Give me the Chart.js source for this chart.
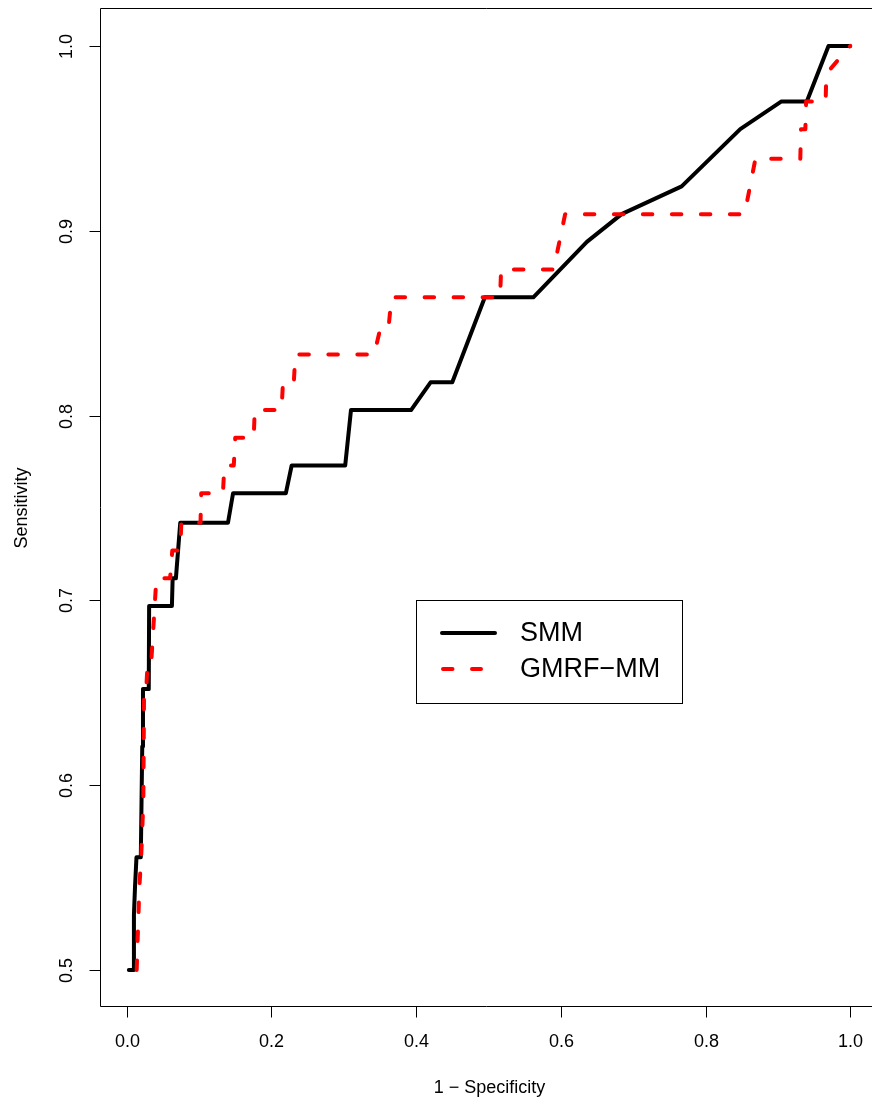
<!DOCTYPE html>
<html>
<head>
<meta charset="utf-8">
<script src="https://cdn.jsdelivr.net/npm/chart.js@4/dist/chart.umd.min.js"></script>
<style>
  html, body { margin: 0; padding: 0; background: #fff; overflow: hidden; }
  canvas { display: block; }
</style>
</head>
<body>
<canvas id="roc" width="872" height="1104"></canvas>
<script>
// ROC curves: false positive rate (1 - specificity) against sensitivity
const seriesNames = ['SMM', 'GMRF\u2212MM'];

const smmFpr = [0.0030, 0.0090, 0.0100, 0.0115, 0.0135, 0.0195, 0.0205, 0.0215, 0.0225,
                0.0305, 0.0310, 0.0625, 0.0635, 0.0680, 0.0740, 0.1400, 0.1470, 0.2200,
                0.2280, 0.3020, 0.3100, 0.3930, 0.4200, 0.4500, 0.4950, 0.5620, 0.6360,
                0.6840, 0.7670, 0.8480, 0.9050, 0.9400, 0.9700, 1.0000];
const smmTpr = [0.500, 0.500, 0.530, 0.545, 0.561, 0.561, 0.591, 0.621, 0.652,
                0.652, 0.697, 0.697, 0.712, 0.712, 0.742, 0.742, 0.758, 0.758,
                0.773, 0.773, 0.803, 0.803, 0.818, 0.818, 0.864, 0.864, 0.894,
                0.909, 0.924, 0.955, 0.970, 0.970, 1.000, 1.000];

const gmrfFpr = [0.0138, 0.0175, 0.0200, 0.0230, 0.0240, 0.0270, 0.0290, 0.0340, 0.0410,
                 0.0600, 0.0630, 0.0740, 0.0755, 0.1020, 0.1030, 0.1330, 0.1350, 0.1480,
                 0.1500, 0.1755, 0.1770, 0.2140, 0.2160, 0.2310, 0.2330, 0.3420, 0.3510,
                 0.3620, 0.3660, 0.5160, 0.5175, 0.5900, 0.6060, 0.8540, 0.8690, 0.9310,
                 0.9320, 0.9380, 0.9390, 0.9660, 0.9670, 1.0000];
const gmrfTpr = [0.500, 0.545, 0.561, 0.591, 0.652, 0.652, 0.667, 0.667, 0.712,
                 0.712, 0.727, 0.727, 0.742, 0.742, 0.758, 0.758, 0.773, 0.773,
                 0.788, 0.788, 0.803, 0.803, 0.818, 0.818, 0.833, 0.833, 0.848,
                 0.848, 0.864, 0.864, 0.879, 0.879, 0.909, 0.909, 0.939, 0.939,
                 0.955, 0.955, 0.970, 0.970, 0.985, 1.000];

const xTicks = [0, 0.2, 0.4, 0.6, 0.8, 1.0];
const yTicks = [0.5, 0.6, 0.7, 0.8, 0.9, 1.0];
const xTitle = '1 \u2212 Specificity';
const yTitle = 'Sensitivity';

const FONT = '"Liberation Sans", Arial, Helvetica, sans-serif';

function toPoints(xs, ys) {
  return xs.map((x, i) => ({ x: x, y: ys[i] }));
}

// Axes, frame, titles and the boxed legend in base-graphics style
const framePlugin = {
  id: 'frame',
  afterDraw(chart) {
    const ctx = chart.ctx;
    const a = chart.chartArea;
    const xs = chart.scales.x;
    const ys = chart.scales.y;
    ctx.save();
    ctx.strokeStyle = '#000';
    ctx.lineWidth = 1;
    ctx.lineCap = 'butt';
    ctx.setLineDash([]);

    const L = Math.round(a.left) + 0.5;
    const T = Math.round(a.top) - 0.5;
    const B = Math.round(a.bottom) - 0.5;
    ctx.beginPath();
    ctx.moveTo(a.right + 2, T);
    ctx.lineTo(L, T);
    ctx.lineTo(L, B);
    ctx.lineTo(a.right + 2, B);
    ctx.stroke();

    ctx.fillStyle = '#000';
    ctx.font = '18px ' + FONT;

    // x axis ticks and labels
    ctx.textAlign = 'center';
    ctx.textBaseline = 'middle';
    xTicks.forEach(v => {
      const px = Math.round(xs.getPixelForValue(v)) + 0.5;
      ctx.beginPath();
      ctx.moveTo(px, B);
      ctx.lineTo(px, B + 11);
      ctx.stroke();
      ctx.fillText(v.toFixed(1), px, B + 36);
    });

    // y axis ticks and labels (rotated, reading upwards)
    yTicks.forEach(v => {
      const py = Math.round(ys.getPixelForValue(v)) + 0.5;
      ctx.beginPath();
      ctx.moveTo(L - 11, py);
      ctx.lineTo(L, py);
      ctx.stroke();
      ctx.save();
      ctx.translate(L - 33, py);
      ctx.rotate(-Math.PI / 2);
      ctx.fillText(v.toFixed(1), 0, 0);
      ctx.restore();
    });

    // axis titles, centred on the full plotting region
    const fullRight = xs.getPixelForValue(1.0399);
    ctx.fillText(xTitle, (a.left + fullRight) / 2, B + 82);
    ctx.save();
    ctx.translate(a.left - 78, (a.top + a.bottom) / 2);
    ctx.rotate(-Math.PI / 2);
    ctx.fillText(yTitle, 0, 0);
    ctx.restore();

    // legend box
    const lx = 416.5, ly = 600.5, lw = 266, lh = 103;
    ctx.fillStyle = '#fff';
    ctx.fillRect(lx, ly, lw, lh);
    ctx.strokeStyle = '#000';
    ctx.lineWidth = 1;
    ctx.strokeRect(lx, ly, lw, lh);

    const rows = [633, 669];
    chart.data.datasets.forEach((ds, i) => {
      const y = rows[i];
      ctx.save();
      ctx.strokeStyle = ds.borderColor;
      ctx.lineWidth = ds.borderWidth;
      ctx.lineCap = ds.borderCapStyle || 'butt';
      ctx.setLineDash(ds.borderDash || []);
      ctx.beginPath();
      ctx.moveTo(ds.borderDash ? 443 : 442, y);
      ctx.lineTo(ds.borderDash ? 481 : 495, y);
      ctx.stroke();
      ctx.restore();
      ctx.fillStyle = '#000';
      ctx.font = '27px ' + FONT;
      ctx.textAlign = 'left';
      ctx.textBaseline = 'middle';
      ctx.fillText(ds.label, 520, y + 1);
    });
    ctx.restore();
  }
};

new Chart(document.getElementById('roc'), {
  type: 'scatter',
  data: {
    datasets: [
      {
        label: seriesNames[0],
        data: toPoints(smmFpr, smmTpr),
        showLine: true,
        borderColor: '#000000',
        borderWidth: 4,
        borderCapStyle: 'round',
        borderJoinStyle: 'round',
        pointRadius: 0,
        tension: 0,
        order: 1
      },
      {
        label: seriesNames[1],
        data: toPoints(gmrfFpr, gmrfTpr),
        showLine: true,
        borderColor: '#ff0000',
        borderWidth: 4,
        borderDash: [9.5, 19.5],
        borderCapStyle: 'round',
        borderJoinStyle: 'round',
        pointRadius: 0,
        tension: 0,
        order: 0
      }
    ]
  },
  options: {
    responsive: false,
    animation: false,
    devicePixelRatio: 1,
    layout: { padding: { left: 100, right: 0, top: 9, bottom: 97 } },
    plugins: {
      legend: { display: false },
      tooltip: { enabled: false }
    },
    scales: {
      x: { type: 'linear', min: -0.0369, max: 1.0301, display: false },
      y: { type: 'linear', min: 0.48, max: 1.02, display: false }
    }
  },
  plugins: [framePlugin]
});
</script>
</body>
</html>
